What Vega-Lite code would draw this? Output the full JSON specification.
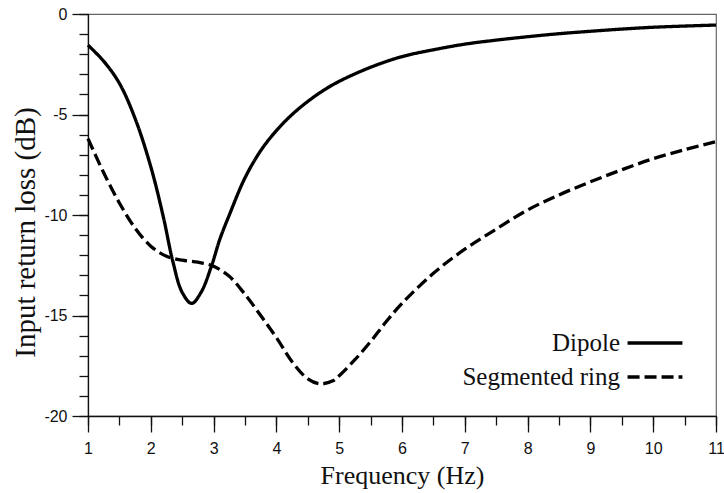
{
  "$schema": "https://vega.github.io/schema/vega-lite/v6.json",
  "width": 628,
  "height": 402,
  "autosize": "none",
  "padding": {"left": 88, "top": 14, "right": 8, "bottom": 77},
  "background": "white",
  "config": {
    "view": {"stroke": "#666", "strokeWidth": 1.2},
    "axis": {
      "domainColor": "#111",
      "domainWidth": 1.3,
      "tickColor": "#111",
      "tickWidth": 1.3,
      "labelFont": "Liberation Sans",
      "labelFontSize": 16,
      "labelColor": "#111",
      "titleFont": "Liberation Serif",
      "titleFontWeight": "normal",
      "titleColor": "#111",
      "labelOverlap": false,
      "labelFlush": false
    },
    "legend": {
      "labelFont": "Liberation Serif",
      "labelFontSize": 25,
      "labelColor": "#111"
    }
  },
  "data": {
    "values": [
      {"f": 1.0, "loss": -1.55, "series": "Dipole"},
      {"f": 1.25, "loss": -2.35, "series": "Dipole"},
      {"f": 1.5, "loss": -3.45, "series": "Dipole"},
      {"f": 1.75, "loss": -5.2, "series": "Dipole"},
      {"f": 2.0, "loss": -7.6, "series": "Dipole"},
      {"f": 2.2, "loss": -10.1, "series": "Dipole"},
      {"f": 2.35, "loss": -12.3, "series": "Dipole"},
      {"f": 2.5, "loss": -13.85, "series": "Dipole"},
      {"f": 2.65, "loss": -14.4, "series": "Dipole"},
      {"f": 2.8, "loss": -13.85, "series": "Dipole"},
      {"f": 2.97, "loss": -12.5, "series": "Dipole"},
      {"f": 3.1, "loss": -11.2, "series": "Dipole"},
      {"f": 3.25, "loss": -10.0, "series": "Dipole"},
      {"f": 3.5, "loss": -8.15, "series": "Dipole"},
      {"f": 3.75, "loss": -6.8, "series": "Dipole"},
      {"f": 4.0, "loss": -5.8, "series": "Dipole"},
      {"f": 4.25, "loss": -5.0, "series": "Dipole"},
      {"f": 4.5, "loss": -4.35, "series": "Dipole"},
      {"f": 4.75, "loss": -3.8, "series": "Dipole"},
      {"f": 5.0, "loss": -3.35, "series": "Dipole"},
      {"f": 5.5, "loss": -2.65, "series": "Dipole"},
      {"f": 6.0, "loss": -2.12, "series": "Dipole"},
      {"f": 6.5, "loss": -1.78, "series": "Dipole"},
      {"f": 7.0, "loss": -1.5, "series": "Dipole"},
      {"f": 7.5, "loss": -1.3, "series": "Dipole"},
      {"f": 8.0, "loss": -1.13, "series": "Dipole"},
      {"f": 8.5, "loss": -0.98, "series": "Dipole"},
      {"f": 9.0, "loss": -0.86, "series": "Dipole"},
      {"f": 9.5, "loss": -0.75, "series": "Dipole"},
      {"f": 10.0, "loss": -0.66, "series": "Dipole"},
      {"f": 10.5, "loss": -0.6, "series": "Dipole"},
      {"f": 11.0, "loss": -0.55, "series": "Dipole"},
      {"f": 1.0, "loss": -6.2, "series": "Segmented ring"},
      {"f": 1.25, "loss": -7.9, "series": "Segmented ring"},
      {"f": 1.5, "loss": -9.4, "series": "Segmented ring"},
      {"f": 1.75, "loss": -10.65, "series": "Segmented ring"},
      {"f": 2.0, "loss": -11.55, "series": "Segmented ring"},
      {"f": 2.25, "loss": -12.05, "series": "Segmented ring"},
      {"f": 2.5, "loss": -12.25, "series": "Segmented ring"},
      {"f": 2.75, "loss": -12.35, "series": "Segmented ring"},
      {"f": 3.0, "loss": -12.55, "series": "Segmented ring"},
      {"f": 3.25, "loss": -13.05, "series": "Segmented ring"},
      {"f": 3.5, "loss": -13.95, "series": "Segmented ring"},
      {"f": 3.75, "loss": -15.0, "series": "Segmented ring"},
      {"f": 4.0, "loss": -16.1, "series": "Segmented ring"},
      {"f": 4.25, "loss": -17.3, "series": "Segmented ring"},
      {"f": 4.5, "loss": -18.15, "series": "Segmented ring"},
      {"f": 4.7, "loss": -18.4, "series": "Segmented ring"},
      {"f": 4.9, "loss": -18.25, "series": "Segmented ring"},
      {"f": 5.0, "loss": -18.0, "series": "Segmented ring"},
      {"f": 5.25, "loss": -17.2, "series": "Segmented ring"},
      {"f": 5.5, "loss": -16.3, "series": "Segmented ring"},
      {"f": 5.75, "loss": -15.3, "series": "Segmented ring"},
      {"f": 6.0, "loss": -14.4, "series": "Segmented ring"},
      {"f": 6.5, "loss": -12.9, "series": "Segmented ring"},
      {"f": 7.0, "loss": -11.7, "series": "Segmented ring"},
      {"f": 7.5, "loss": -10.7, "series": "Segmented ring"},
      {"f": 8.0, "loss": -9.75, "series": "Segmented ring"},
      {"f": 8.5, "loss": -9.0, "series": "Segmented ring"},
      {"f": 9.0, "loss": -8.35, "series": "Segmented ring"},
      {"f": 9.5, "loss": -7.75, "series": "Segmented ring"},
      {"f": 10.0, "loss": -7.2, "series": "Segmented ring"},
      {"f": 10.5, "loss": -6.75, "series": "Segmented ring"},
      {"f": 11.0, "loss": -6.35, "series": "Segmented ring"}
    ]
  },
  "layer": [
    {
      "mark": {"type": "line", "opacity": 0},
      "encoding": {
        "x": {
          "field": "f",
          "type": "quantitative",
          "scale": {"domain": [1, 11], "nice": false, "zero": false},
          "axis": {
            "orient": "bottom",
            "title": null,
            "labels": false,
            "grid": false,
            "domain": false,
            "values": [1, 1.5, 2, 2.5, 3, 3.5, 4, 4.5, 5, 5.5, 6, 6.5, 7, 7.5, 8, 8.5, 9, 9.5, 10, 10.5, 11],
            "tickSize": 9
          }
        },
        "y": {
          "field": "loss",
          "type": "quantitative",
          "scale": {"domain": [-20, 0], "nice": false, "zero": false},
          "axis": {
            "orient": "left",
            "title": null,
            "labels": false,
            "grid": false,
            "domain": false,
            "values": [0, -1, -2, -3, -4, -5, -6, -7, -8, -9, -10, -11, -12, -13, -14, -15, -16, -17, -18, -19, -20],
            "tickSize": 9
          }
        }
      }
    },
    {
      "mark": {"type": "line", "color": "black", "strokeWidth": 3.3, "interpolate": "catmull-rom"},
      "encoding": {
        "x": {
          "field": "f",
          "type": "quantitative",
          "scale": {"domain": [1, 11], "nice": false, "zero": false},
          "axis": {
            "orient": "bottom",
            "title": "Frequency (Hz)",
            "titleFontSize": 26,
            "titlePadding": 6,
            "values": [1, 2, 3, 4, 5, 6, 7, 8, 9, 10, 11],
            "labelExpr": "'' + datum.value",
            "tickSize": 16,
            "labelPadding": 8,
            "gridColor": "#c4c4c4"
          }
        },
        "y": {
          "field": "loss",
          "type": "quantitative",
          "scale": {"domain": [-20, 0], "nice": false, "zero": false},
          "axis": {
            "orient": "left",
            "title": "Input return loss (dB)",
            "titleFontSize": 29,
            "titlePadding": 3,
            "titleY": 218,
            "titleAnchor": "middle",
            "titleBaseline": "bottom",
            "values": [0, -5, -10, -15, -20],
            "labelExpr": "'' + datum.value",
            "tickSize": 16,
            "labelPadding": 5,
            "gridColor": "#dcdcdc"
          }
        },
        "strokeDash": {
          "field": "series",
          "type": "nominal",
          "scale": {"domain": ["Dipole", "Segmented ring"], "range": [[1, 0], [12, 5]]},
          "legend": {
            "title": null,
            "orient": "bottom-right",
            "offset": 20,
            "fillColor": "white",
            "padding": 6,
            "symbolType": "M-1.83,0H1.83",
            "symbolSize": 900,
            "symbolStrokeWidth": 3.3,
            "symbolStrokeColor": "black",
            "symbolOffset": 0,
            "labelAlign": "right",
            "labelOffset": -52,
            "rowPadding": 4
          }
        }
      }
    }
  ],
  "resolve": {"axis": {"x": "independent", "y": "independent"}}
}
